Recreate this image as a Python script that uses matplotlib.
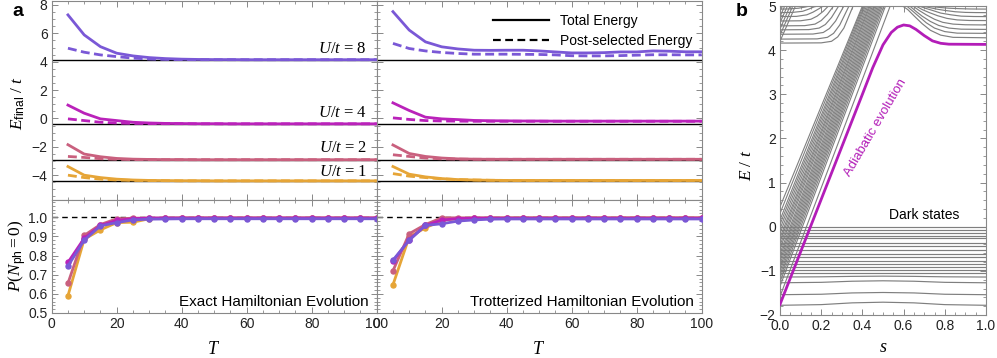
import numpy as np
import matplotlib
matplotlib.use('Agg')
import matplotlib.pyplot as plt
from matplotlib.ticker import MultipleLocator, FormatStrFormatter
from matplotlib.lines import Line2D

plt.rcParams['font.family'] = ['Liberation Sans', 'DejaVu Sans']
plt.rcParams['mathtext.fontset'] = 'custom'
plt.rcParams['mathtext.rm'] = 'Liberation Serif'
plt.rcParams['mathtext.it'] = 'Liberation Serif:italic'
plt.rcParams['mathtext.bf'] = 'Liberation Serif:bold'
plt.rcParams['mathtext.sf'] = 'Liberation Sans'

# ---------------- panel a data ----------------
T = [5, 10, 15, 20, 25, 30, 35, 40, 45, 50, 55, 60, 65, 70, 75, 80, 85, 90, 95, 100]
U_vals = [1, 2, 4, 8]
colors = ['#E6A537', '#C9607E', '#BA22BA', '#7A58D6']
E_exact = [-4.40, -2.91, -0.38, 4.14]
U_label_E = [-3.77, -2.08, 0.36, 4.9]

# exact Hamiltonian evolution: total energy / post-selected energy
exact_total = [
    [-3.39, -4.00, -4.17, -4.28, -4.34, -4.37, -4.38, -4.39, -4.39, -4.40, -4.40, -4.40, -4.40, -4.40, -4.40, -4.40, -4.40, -4.40, -4.40, -4.40],
    [-1.85, -2.51, -2.70, -2.82, -2.87, -2.89, -2.90, -2.90, -2.91, -2.91, -2.91, -2.91, -2.91, -2.91, -2.91, -2.91, -2.91, -2.91, -2.91, -2.91],
    [0.94, 0.37, -0.03, -0.15, -0.27, -0.32, -0.35, -0.36, -0.37, -0.37, -0.38, -0.38, -0.38, -0.38, -0.38, -0.38, -0.38, -0.38, -0.38, -0.38],
    [7.30, 5.89, 5.06, 4.60, 4.41, 4.29, 4.22, 4.18, 4.16, 4.15, 4.15, 4.14, 4.14, 4.14, 4.14, 4.14, 4.14, 4.14, 4.14, 4.14],
]
exact_post = [
    [-4.00, -4.17, -4.28, -4.34, -4.37, -4.38, -4.39, -4.40, -4.40, -4.40, -4.40, -4.40, -4.40, -4.40, -4.40, -4.40, -4.40, -4.40, -4.40, -4.40],
    [-2.68, -2.75, -2.84, -2.88, -2.90, -2.90, -2.91, -2.91, -2.91, -2.91, -2.91, -2.91, -2.91, -2.91, -2.91, -2.91, -2.91, -2.91, -2.91, -2.91],
    [-0.03, -0.15, -0.27, -0.32, -0.35, -0.36, -0.37, -0.37, -0.38, -0.38, -0.38, -0.38, -0.38, -0.38, -0.38, -0.38, -0.38, -0.38, -0.38, -0.38],
    [4.95, 4.67, 4.48, 4.36, 4.25, 4.19, 4.16, 4.15, 4.14, 4.14, 4.14, 4.14, 4.14, 4.14, 4.14, 4.14, 4.14, 4.14, 4.14, 4.14],
]
# trotterized evolution
trot_total = [
    [-3.39, -3.93, -4.12, -4.24, -4.31, -4.34, -4.36, -4.37, -4.37, -4.37, -4.37, -4.37, -4.37, -4.37, -4.37, -4.37, -4.37, -4.37, -4.37, -4.37],
    [-1.87, -2.47, -2.68, -2.79, -2.85, -2.87, -2.88, -2.88, -2.88, -2.88, -2.88, -2.88, -2.88, -2.88, -2.88, -2.88, -2.88, -2.88, -2.88, -2.88],
    [1.10, 0.56, 0.09, -0.03, -0.08, -0.14, -0.16, -0.17, -0.18, -0.18, -0.19, -0.19, -0.19, -0.19, -0.19, -0.19, -0.19, -0.19, -0.19, -0.19],
    [7.53, 6.23, 5.40, 5.05, 4.90, 4.81, 4.80, 4.81, 4.81, 4.76, 4.69, 4.62, 4.62, 4.64, 4.69, 4.69, 4.76, 4.74, 4.70, 4.70],
]
trot_post = [
    [-3.89, -4.07, -4.17, -4.26, -4.31, -4.34, -4.36, -4.37, -4.37, -4.37, -4.37, -4.37, -4.37, -4.37, -4.37, -4.37, -4.37, -4.37, -4.37, -4.37],
    [-2.56, -2.68, -2.79, -2.85, -2.87, -2.88, -2.88, -2.88, -2.88, -2.88, -2.88, -2.88, -2.88, -2.88, -2.88, -2.88, -2.88, -2.88, -2.88, -2.88],
    [0.04, -0.07, -0.15, -0.18, -0.19, -0.20, -0.20, -0.20, -0.20, -0.20, -0.20, -0.20, -0.20, -0.20, -0.20, -0.20, -0.20, -0.20, -0.20, -0.20],
    [5.29, 4.93, 4.76, 4.65, 4.58, 4.53, 4.53, 4.53, 4.52, 4.51, 4.48, 4.42, 4.41, 4.41, 4.43, 4.46, 4.49, 4.49, 4.48, 4.48],
]
# probability of zero photons
exact_P = [
    [0.590, 0.885, 0.934, 0.972, 0.974, 0.992, 0.995, 0.996, 0.996, 0.996, 0.996, 0.996, 0.996, 0.996, 0.996, 0.996, 0.996, 0.996, 0.996, 0.996],
    [0.655, 0.905, 0.962, 0.992, 0.995, 0.996, 0.996, 0.996, 0.996, 0.996, 0.996, 0.996, 0.996, 0.996, 0.996, 0.996, 0.996, 0.996, 0.996, 0.996],
    [0.764, 0.890, 0.957, 0.983, 0.993, 0.995, 0.996, 0.996, 0.996, 0.996, 0.996, 0.996, 0.996, 0.996, 0.996, 0.996, 0.996, 0.996, 0.996, 0.996],
    [0.745, 0.880, 0.955, 0.972, 0.986, 0.990, 0.991, 0.992, 0.992, 0.992, 0.992, 0.992, 0.992, 0.992, 0.992, 0.992, 0.992, 0.992, 0.992, 0.992],
]
trot_P = [
    [0.647, 0.897, 0.945, 0.983, 0.993, 0.995, 0.995, 0.996, 0.996, 0.996, 0.996, 0.996, 0.996, 0.996, 0.996, 0.996, 0.996, 0.996, 0.996, 0.996],
    [0.720, 0.914, 0.962, 0.997, 0.997, 0.997, 0.997, 0.997, 0.997, 0.997, 0.997, 0.997, 0.997, 0.997, 0.997, 0.997, 0.997, 0.997, 0.997, 0.997],
    [0.770, 0.883, 0.957, 0.985, 0.993, 0.995, 0.995, 0.995, 0.995, 0.995, 0.995, 0.995, 0.995, 0.995, 0.995, 0.995, 0.995, 0.995, 0.995, 0.995],
    [0.776, 0.880, 0.957, 0.966, 0.980, 0.986, 0.990, 0.991, 0.991, 0.991, 0.991, 0.991, 0.991, 0.991, 0.991, 0.991, 0.991, 0.991, 0.991, 0.991],
]

# ---------------- panel b data ----------------
s_ends = [0.0, 1.0]
dark_levels = [0.0, -0.07, -0.14, -0.2, -0.265, -0.37, -0.445, -0.52, -0.61, -0.69,
               -0.785, -0.84, -0.91, -0.99, -1.05]
bump_s = [0.0, 0.2, 0.35, 0.5, 0.65, 0.8, 1.0]
bump_lines = [
    [-1.14, -1.135, -1.125, -1.12, -1.125, -1.135, -1.14],
    [-1.27, -1.26, -1.235, -1.225, -1.235, -1.26, -1.27],
    [-1.54, -1.53, -1.5, -1.49, -1.5, -1.53, -1.54],
    [-1.78, -1.765, -1.725, -1.71, -1.725, -1.765, -1.78],
]
# rising fan: energy at s=0 and s where the level leaves the top of the plot
fan_E0 = [0.45, 0.3, 0.15, 0.05, -0.05, -0.15, -0.25, -0.33, -0.42, -0.5, -0.6,
          -0.68, -0.76, -0.84, -0.92, -1.0, -1.08, -1.16, -1.25, -1.35, -1.58]
fan_s5 = [0.400, 0.404, 0.409, 0.414, 0.420, 0.426, 0.432, 0.437, 0.443, 0.449, 0.455,
          0.461, 0.467, 0.473, 0.479, 0.485, 0.491, 0.497, 0.504, 0.512, 0.535]
steep_E0 = [4.2, 4.34, 4.48, 4.62, 4.76, 4.88]
steep_s5 = [0.075, 0.062, 0.049, 0.036, 0.023, 0.012]
# upper band, left part (bending up into the fan)
upper_left = [
    ([0, 0.2, 0.25, 0.28, 0.31, 0.355], [4.16, 4.165, 4.2, 4.3, 4.5, 5.0]),
    ([0, 0.18, 0.23, 0.26, 0.29, 0.335], [4.25, 4.255, 4.29, 4.38, 4.57, 5.0]),
    ([0, 0.16, 0.21, 0.24, 0.27, 0.31], [4.36, 4.365, 4.4, 4.49, 4.66, 5.0]),
    ([0, 0.14, 0.19, 0.22, 0.25, 0.285], [4.46, 4.465, 4.5, 4.58, 4.74, 5.0]),
    ([0, 0.12, 0.17, 0.2, 0.23, 0.26], [4.55, 4.555, 4.59, 4.67, 4.81, 5.0]),
    ([0, 0.1, 0.15, 0.18, 0.21, 0.235], [4.66, 4.665, 4.7, 4.77, 4.88, 5.0]),
    ([0, 0.08, 0.13, 0.16, 0.19, 0.21], [4.76, 4.765, 4.8, 4.86, 4.94, 5.0]),
    ([0, 0.06, 0.11, 0.14, 0.165, 0.185], [4.85, 4.855, 4.88, 4.93, 4.98, 5.0]),
    ([0, 0.04, 0.09, 0.12, 0.14, 0.155], [4.93, 4.933, 4.95, 4.975, 4.995, 5.0]),
]
# upper band, right part (coming down from the top after the crossing)
upper_right = [
    ([0.595, 0.62, 0.65, 0.69, 0.73, 0.78, 0.84, 1.0], [5.0, 4.92, 4.78, 4.6, 4.45, 4.34, 4.29, 4.28]),
    ([0.615, 0.64, 0.67, 0.71, 0.75, 0.8, 0.86, 1.0], [5.0, 4.9, 4.78, 4.62, 4.5, 4.42, 4.385, 4.38]),
    ([0.63, 0.66, 0.69, 0.73, 0.77, 0.82, 0.88, 1.0], [5.0, 4.88, 4.77, 4.65, 4.56, 4.5, 4.475, 4.47]),
    ([0.645, 0.675, 0.71, 0.75, 0.79, 0.84, 0.9, 1.0], [5.0, 4.9, 4.8, 4.7, 4.63, 4.59, 4.575, 4.57]),
    ([0.66, 0.69, 0.725, 0.765, 0.81, 0.86, 0.92, 1.0], [5.0, 4.92, 4.85, 4.78, 4.72, 4.685, 4.672, 4.67]),
    ([0.675, 0.705, 0.74, 0.78, 0.83, 0.88, 0.94, 1.0], [5.0, 4.95, 4.9, 4.84, 4.8, 4.77, 4.762, 4.76]),
    ([0.69, 0.72, 0.76, 0.8, 0.85, 0.9, 0.95, 1.0], [5.0, 4.97, 4.93, 4.9, 4.87, 4.855, 4.851, 4.85]),
    ([0.71, 0.74, 0.78, 0.82, 0.87, 0.92, 0.96, 1.0], [5.0, 4.985, 4.965, 4.95, 4.94, 4.933, 4.931, 4.93]),
]
adiabatic_s = [0, 0.1, 0.2, 0.3, 0.4, 0.45, 0.5, 0.54, 0.57, 0.6, 0.63, 0.66, 0.7, 0.74, 0.78, 0.82, 1.0]
adiabatic_E = [-1.76, -0.57, 0.62, 1.81, 3.0, 3.6, 4.12, 4.4, 4.52, 4.57, 4.55, 4.47, 4.33, 4.21, 4.155, 4.135, 4.13]

frame_c = '#888888'
gray = '#7f7f7f'
mag = '#B31DB8'


def style_axes(ax):
    for sp in ax.spines.values():
        sp.set_color(frame_c)
        sp.set_linewidth(0.8)
    ax.tick_params(which='both', direction='in', top=True, right=True,
                   color=frame_c, labelsize=10, labelcolor='#222222', pad=3)
    ax.tick_params(which='major', length=4, width=0.7)
    ax.tick_params(which='minor', length=2, width=0.6)


fig = plt.figure(figsize=(9.97, 3.58), dpi=100)
W, H = 997.0, 358.0


def add_ax(x0, y0, x1, y1):
    return fig.add_axes([x0 / W, 1 - y1 / H, (x1 - x0) / W, (y1 - y0) / H])


ax_tl = add_ax(51.7, 1, 376.7, 200)
ax_tr = add_ax(376.7, 1, 701.7, 200)
ax_bl = add_ax(51.7, 200, 376.7, 313)
ax_br = add_ax(376.7, 200, 701.7, 313)
ax_b = add_ax(780, 6, 986, 315)

dash = (3.2, 1.6)

for ax, tot, post in [(ax_tl, exact_total, exact_post), (ax_tr, trot_total, trot_post)]:
    for e in E_exact:
        ax.axhline(e, color='k', lw=1.0, zorder=1)
    for i in range(4):
        ax.plot(T, tot[i], color=colors[i], lw=2.0, zorder=2 + i)
        ax.plot(T, post[i], color=colors[i], lw=2.0, dashes=dash, zorder=2 + i)
    ax.set_xlim(0, 100)
    ax.set_ylim(-5.75, 8.28)
    ax.xaxis.set_major_locator(MultipleLocator(20))
    ax.xaxis.set_minor_locator(MultipleLocator(5))
    ax.yaxis.set_major_locator(MultipleLocator(2))
    ax.yaxis.set_minor_locator(MultipleLocator(0.5))
    style_axes(ax)
    ax.tick_params(labelbottom=False)

ax_tr.tick_params(labelleft=False)

for i, u in enumerate(U_vals):
    ax_tl.text(97, U_label_E[i], r'$U/t$ = %d' % u, ha='right', va='center',
               fontsize=12, family=['Liberation Serif', 'DejaVu Serif'])

ax_tr.legend(handles=[Line2D([], [], color='k', lw=1.6),
                      Line2D([], [], color='k', lw=1.6, dashes=(3.5, 2.0))],
             labels=['Total Energy', 'Post-selected Energy'],
             loc='upper right', bbox_to_anchor=(1.01, 1.0), frameon=False,
             fontsize=10, handlelength=4.0, handletextpad=0.8, labelspacing=0.45)

for ax, P, name in [(ax_bl, exact_P, 'Exact Hamiltonian Evolution'),
                    (ax_br, trot_P, 'Trotterized Hamiltonian Evolution')]:
    ax.axhline(1.0, color='k', lw=1.0, dashes=(4, 3), zorder=1)
    for i in range(4):
        ax.plot(T, P[i], color=colors[i], lw=2.0, marker='o', ms=3.6, zorder=2 + i)
    ax.set_xlim(0, 100)
    ax.set_ylim(0.5, 1.09)
    ax.xaxis.set_major_locator(MultipleLocator(20))
    ax.xaxis.set_minor_locator(MultipleLocator(5))
    ax.yaxis.set_major_locator(MultipleLocator(0.1))
    ax.yaxis.set_minor_locator(MultipleLocator(0.02))
    ax.yaxis.set_major_formatter(FormatStrFormatter('%.1f'))
    style_axes(ax)
    ax.text(0.975, 0.1, name, transform=ax.transAxes, ha='right', va='center', fontsize=11)

ax_br.tick_params(labelleft=False)

fig.text(214 / W, 1 - 349 / H, r'$T$', ha='center', va='center', fontsize=13)
fig.text(539 / W, 1 - 349 / H, r'$T$', ha='center', va='center', fontsize=13)
fig.text(18 / W, 1 - 103 / H, r'$E_{\mathsf{final}}\ /\ t$', rotation=90,
         ha='center', va='center', fontsize=12.5)
fig.text(18 / W, 1 - 256 / H, r'$P(N_{\mathsf{ph}}=0)$', rotation=90,
         ha='center', va='center', fontsize=12.5)

# ---------------- panel b ----------------
for e in dark_levels:
    ax_b.plot(s_ends, [e, e], color=gray, lw=0.85)
for line in bump_lines:
    ax_b.plot(bump_s, line, color=gray, lw=0.85)
for e0, s5 in zip(fan_E0, fan_s5):
    ax_b.plot([0.0, s5], [e0, 5.0], color=gray, lw=0.8)
for e0, s5 in zip(steep_E0, steep_s5):
    ax_b.plot([0.0, s5], [e0, 5.0], color=gray, lw=0.8)
for ss, ee in upper_left + upper_right:
    ax_b.plot(ss, ee, color=gray, lw=0.85)
ax_b.plot(adiabatic_s, adiabatic_E, color=mag, lw=2.0, zorder=5)

ax_b.set_xlim(0, 1)
ax_b.set_ylim(-2, 5)
ax_b.xaxis.set_major_locator(MultipleLocator(0.2))
ax_b.xaxis.set_minor_locator(MultipleLocator(0.05))
ax_b.xaxis.set_major_formatter(FormatStrFormatter('%.1f'))
ax_b.yaxis.set_major_locator(MultipleLocator(1))
ax_b.yaxis.set_minor_locator(MultipleLocator(0.2))
style_axes(ax_b)
fig.text(883 / W, 1 - 347 / H, r'$s$', ha='center', va='center', fontsize=13)
fig.text(746 / W, 1 - 165 / H, r'$E\ /\ t$', rotation=90, ha='center', va='center', fontsize=12.5)
ax_b.text(0.465, 2.25, 'Adiabatic evolution', color=mag, rotation=59.5,
          rotation_mode='anchor', ha='center', va='center', fontsize=9.5)
ax_b.text(0.70, 0.27, 'Dark states', ha='center', va='center', fontsize=10)

fig.text(18 / W, 1 - 12 / H, 'a', fontsize=14, fontweight='bold', ha='center', va='center')
fig.text(742 / W, 1 - 12 / H, 'b', fontsize=14, fontweight='bold', ha='center', va='center')

fig.savefig('out.png', dpi=100)
